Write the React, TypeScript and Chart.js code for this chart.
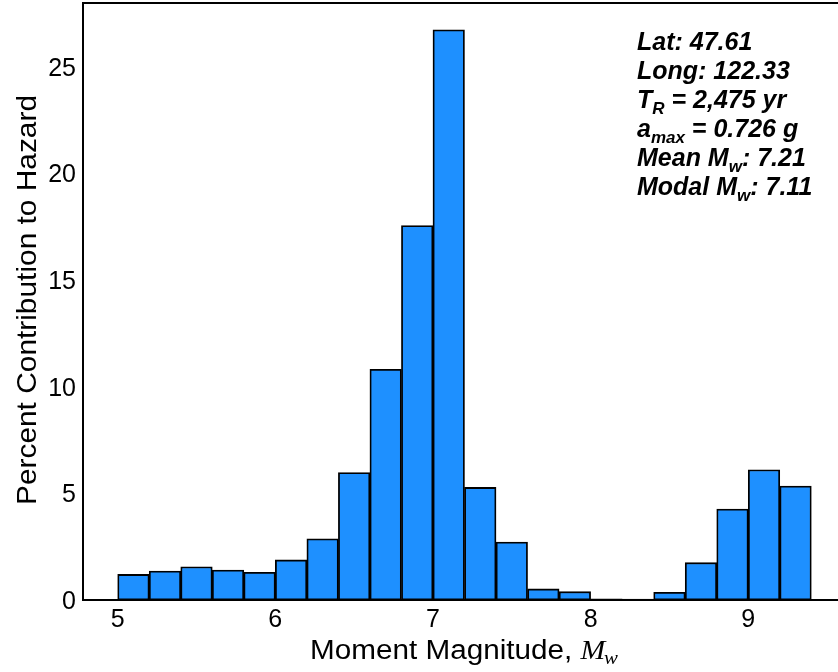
import React, { useEffect, useRef } from "react";
import { Chart, registerables } from "chart.js";

Chart.register(...registerables);

// Magnitude bins (lower edges), bin width 0.2
const binLower = [5.0, 5.2, 5.4, 5.6, 5.8, 6.0, 6.2, 6.4, 6.6, 6.8, 7.0, 7.2, 7.4, 7.6, 7.8, 8.0, 8.2, 8.4, 8.6, 8.8, 9.0, 9.2];
const binWidth = 0.2;
// Percent contribution to hazard per bin
const contribution = [1.2, 1.36, 1.56, 1.4, 1.3, 1.88, 2.87, 5.98, 10.82, 17.56, 26.74, 5.28, 2.72, 0.52, 0.39, 0.06, 0.04, 0.36, 1.75, 4.27, 6.11, 5.34];

const xTickValues = [5, 6, 7, 8, 9];
const yTickValues = [0, 5, 10, 15, 20, 25];
const xRange = [4.78, 9.62];
const yRange = [0, 28];

const yTitle = "Percent Contribution to Hazard";
const xTitleMain = "Moment Magnitude, ";
const xTitleSymbol = "M";
const xTitleSub = "w";

// Annotation lines: [text, isSubscript]
const infoLines: [string, boolean][][] = [
  [["Lat: 47.61", false]],
  [["Long: 122.33", false]],
  [["T", false], ["R", true], [" = 2,475 yr", false]],
  [["a", false], ["max", true], [" = 0.726 g", false]],
  [["Mean M", false], ["w", true], [": 7.21", false]],
  [["Modal M", false], ["w", true], [": 7.11", false]],
];

const SANS = '"Liberation Sans", Arial, Helvetica, sans-serif';
const SERIF = '"Liberation Serif", "Times New Roman", serif';

const overlayPlugin = {
  id: "overlay",
  afterDraw(chart: any) {
    const { ctx, chartArea } = chart;
    const { left, top, right, bottom } = chartArea;
    ctx.save();
    // frame
    ctx.strokeStyle = "#000";
    ctx.lineWidth = 2;
    ctx.strokeRect(left, top, right - left, bottom - top);

    ctx.fillStyle = "#000";
    ctx.textBaseline = "alphabetic";
    ctx.textAlign = "left";

    // y title (scaled to span ~410px)
    ctx.save();
    ctx.font = `28px ${SANS}`;
    const yw = ctx.measureText(yTitle).width;
    ctx.translate(36, 300);
    ctx.rotate(-Math.PI / 2);
    ctx.scale(410 / yw, 1);
    ctx.textAlign = "center";
    ctx.fillText(yTitle, 0, 0);
    ctx.restore();

    // x title (scaled to span ~308px)
    const mainFont = `27px ${SANS}`;
    const symFont = `italic 27px ${SERIF}`;
    const subFont = `italic 19px ${SERIF}`;
    ctx.font = mainFont;
    const w1 = ctx.measureText(xTitleMain).width;
    ctx.font = symFont;
    const w2 = ctx.measureText(xTitleSymbol).width;
    ctx.font = subFont;
    const w3 = ctx.measureText(xTitleSub).width;
    const total = w1 + w2 + w3 - 1;
    const sx = 308 / total;
    ctx.save();
    ctx.translate(310, 659);
    ctx.scale(sx, 1);
    let cx = 0;
    ctx.font = mainFont;
    ctx.fillText(xTitleMain, cx, 0);
    cx += w1;
    ctx.font = symFont;
    ctx.fillText(xTitleSymbol, cx, 0);
    cx += w2 - 1;
    ctx.font = subFont;
    ctx.fillText(xTitleSub, cx, 5);
    ctx.restore();

    // annotation block
    const ax = 637;
    let ay = 50;
    const size = 25;
    for (const line of infoLines) {
      let x = ax;
      for (const [t, sub] of line) {
        const fs = sub ? 17 : size;
        ctx.font = `italic bold ${fs}px ${SANS}`;
        ctx.fillText(t, x, sub ? ay + 6 : ay);
        x += ctx.measureText(t).width;
      }
      ay += 28.9;
    }
    ctx.restore();
  },
};

export default function App() {
  const canvasRef = useRef<HTMLCanvasElement | null>(null);

  useEffect(() => {
    const canvas = canvasRef.current;
    if (!canvas) return;
    const data = binLower.map((b, i) => ({ x: b + binWidth / 2, y: contribution[i] }));
    const chart = new Chart(canvas, {
      type: "bar",
      data: {
        datasets: [
          {
            data,
            backgroundColor: "#1E90FF",
            borderColor: "#000000",
            borderWidth: 1.8,
            borderSkipped: false,
            barPercentage: 1,
            categoryPercentage: 1,
          },
        ],
      },
      options: {
        responsive: false,
        animation: false,
        devicePixelRatio: 1,
        layout: { autoPadding: false, padding: { top: 3, left: 0, right: 0, bottom: 0 } },
        plugins: {
          legend: { display: false },
          tooltip: { enabled: false },
          title: { display: false },
        },
        scales: {
          x: {
            type: "linear",
            min: xRange[0],
            max: xRange[1],
            offset: false,
            grid: { display: false, drawTicks: false },
            border: { display: false },
            afterBuildTicks: (s: any) => {
              s.ticks = xTickValues.map((v) => ({ value: v }));
            },
            afterFit: (s: any) => {
              s.height = 72;
              s.paddingLeft = 0;
              s.paddingRight = 0;
              s.paddingTop = 0;
              s.paddingBottom = 0;
            },
            ticks: {
              color: "#000",
              padding: 5,
              font: { family: SANS, size: 25 },
              maxRotation: 0,
              autoSkip: false,
              callback: (v: any) => String(v),
            },
          },
          y: {
            min: yRange[0],
            max: yRange[1],
            grid: { display: false, drawTicks: false },
            border: { display: false },
            afterBuildTicks: (s: any) => {
              s.ticks = yTickValues.map((v) => ({ value: v }));
            },
            afterFit: (s: any) => {
              s.width = 83;
              s.paddingTop = 0;
              s.paddingBottom = 0;
              s.paddingLeft = 0;
              s.paddingRight = 0;
            },
            ticks: {
              color: "#000",
              padding: 7,
              labelOffset: 2,
              font: { family: SANS, size: 25 },
              callback: (v: any) => String(v),
            },
          },
        },
      },
      plugins: [overlayPlugin],
    } as any);
    return () => chart.destroy();
  }, []);

  return (
    <div
      style={{
        position: "fixed",
        left: 0,
        top: 0,
        width: 838,
        height: 672,
        overflow: "hidden",
        background: "#fff",
      }}
    >
      <canvas ref={canvasRef} width={846} height={672} style={{ display: "block" }} />
    </div>
  );
}
